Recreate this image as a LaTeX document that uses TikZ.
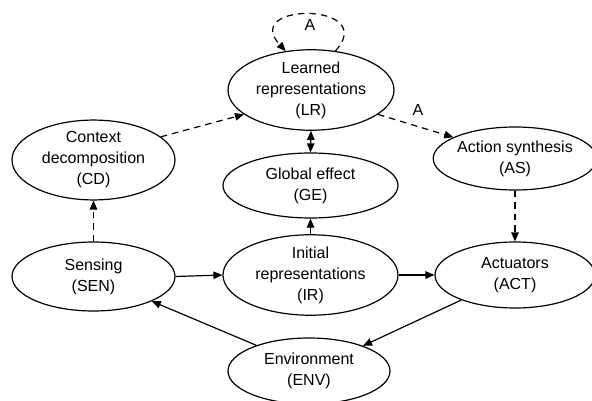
\documentclass[tikz,border=0pt]{standalone}
\usepackage{fontspec}
\setmainfont{Liberation Sans}
\usetikzlibrary{shapes.geometric,arrows.meta}
\begin{document}
\begin{tikzpicture}[x=1pt,y=-1pt,
  el/.style={ellipse,draw,line width=1.2pt,inner sep=0pt,align=center,font=\fontsize{16}{21}\selectfont},
  tip/.style={-{Triangle[length=9pt,width=7.5pt]}},
  arr/.style={tip,line width=1.2pt},
  dsh/.style={arr,dash pattern=on 6.5pt off 5pt},
  lbl/.style={font=\fontsize{16}{18}\selectfont}]
\useasboundingbox (0,0) rectangle (592,401);
\node[el,minimum width=166pt,minimum height=72pt] (LR) at (311,90) {Learned\\representations\\(LR)};
\node[el,minimum width=163pt,minimum height=72pt] (CD) at (93.5,160) {Context\\decomposition\\(CD)};
\node[el,minimum width=175pt,minimum height=65pt] (GE) at (310.5,185.5) {Global effect\\(GE)};
\node[el,minimum width=160pt,minimum height=63pt] (AS) at (515,158.5) {Action synthesis\\(AS)};
\node[el,minimum width=163pt,minimum height=69pt] (SEN) at (93.5,276.5) {Sensing\\(SEN)};
\node[el,minimum width=175pt,minimum height=65pt] (IR) at (310.5,275) {Initial\\representations\\(IR)};
\node[el,minimum width=160pt,minimum height=66pt] (ACT) at (515,275) {Actuators\\(ACT)};
\node[el,minimum width=162pt,minimum height=66pt] (ENV) at (309,371) {Environment\\(ENV)};
% connectors
\draw[dsh] (LR.58) .. controls (380,2) and (240,2) .. (LR.123);
\node[lbl] (A1) at (310,25) {A};
\draw[dsh] (CD.19) -- (LR.200);
\draw[dsh] (LR.340) -- (AS.161);
\node[lbl] (A2) at (418,110) {A};
\draw[dsh] (SEN.north) -- (CD.south);
\draw[dsh] (AS.south) -- (ACT.north);
\draw[line width=1.2pt,{Triangle[length=9pt,width=7.5pt]}-{Triangle[length=9pt,width=7.5pt]}] (LR.south) -- (GE.north);
\draw[arr] (IR.north) -- (GE.south);
\draw[arr] (SEN.east) -- (IR.west);
\draw[arr] (IR.east) -- (ACT.west);
\draw[arr] (ACT.205) -- (ENV.25);
\draw[arr] (ENV.154) -- (SEN.337);
\end{tikzpicture}
\end{document}
